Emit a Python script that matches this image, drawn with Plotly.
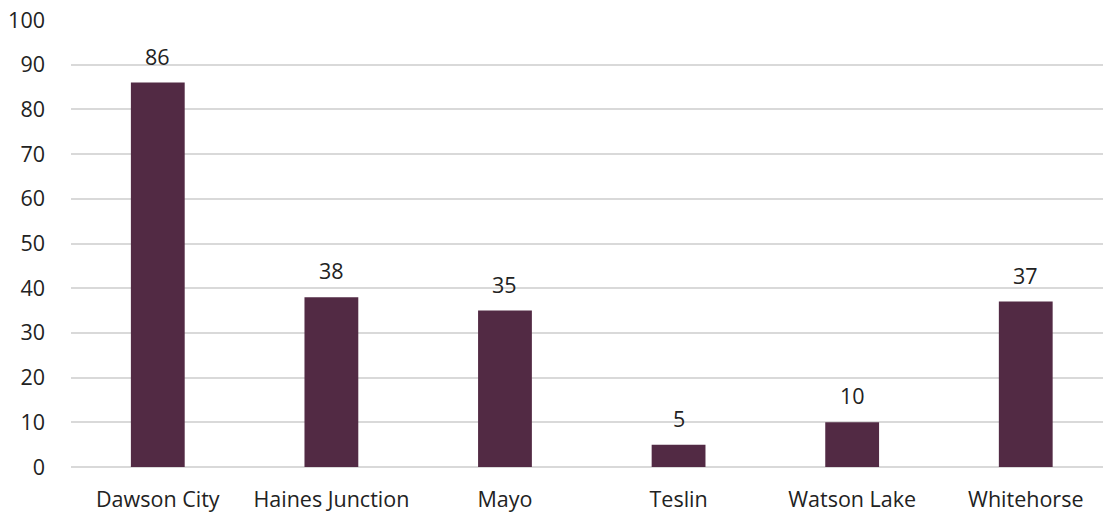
import plotly.graph_objects as go

communities = ["Dawson City", "Haines Junction", "Mayo", "Teslin", "Watson Lake", "Whitehorse"]
counts = [86, 38, 35, 5, 10, 37]
y_ticks = [0, 10, 20, 30, 40, 50, 60, 70, 80, 90, 100]

bar_color = "#522a44"
text_color = "#222222"
font_family = "'Open Sans', sans-serif"
font_size = 21.5

fig = go.Figure(
    go.Bar(
        x=communities,
        y=counts,
        width=0.31,
        marker=dict(color=bar_color, line=dict(width=0)),
        hoverinfo="x+y",
    )
)

# value labels sitting above each bar
for name, val in zip(communities, counts):
    fig.add_annotation(
        x=name, y=val, text=str(val), showarrow=False,
        yanchor="bottom", yshift=10,
        font=dict(family=font_family, size=font_size, color=text_color),
    )

fig.update_layout(
    width=1103, height=514,
    margin=dict(l=71, r=0, t=19.5, b=46.5),
    paper_bgcolor="white", plot_bgcolor="white",
    showlegend=False,
    font=dict(family=font_family, size=font_size, color=text_color),
    xaxis=dict(
        range=[-0.5, 5.445], showgrid=False, showline=False,
        ticks="", ticklabelstandoff=17, tickfont=dict(size=font_size),
    ),
    yaxis=dict(
        range=[0, 100], tickvals=y_ticks, showgrid=True,
        gridcolor="#d9d9d9", gridwidth=1.5,
        zeroline=True, zerolinecolor="#d9d9d9", zerolinewidth=1.5,
        showline=False, ticks="", ticklabelstandoff=25, tickfont=dict(size=font_size),
    ),
)

fig.write_html("out.html")
